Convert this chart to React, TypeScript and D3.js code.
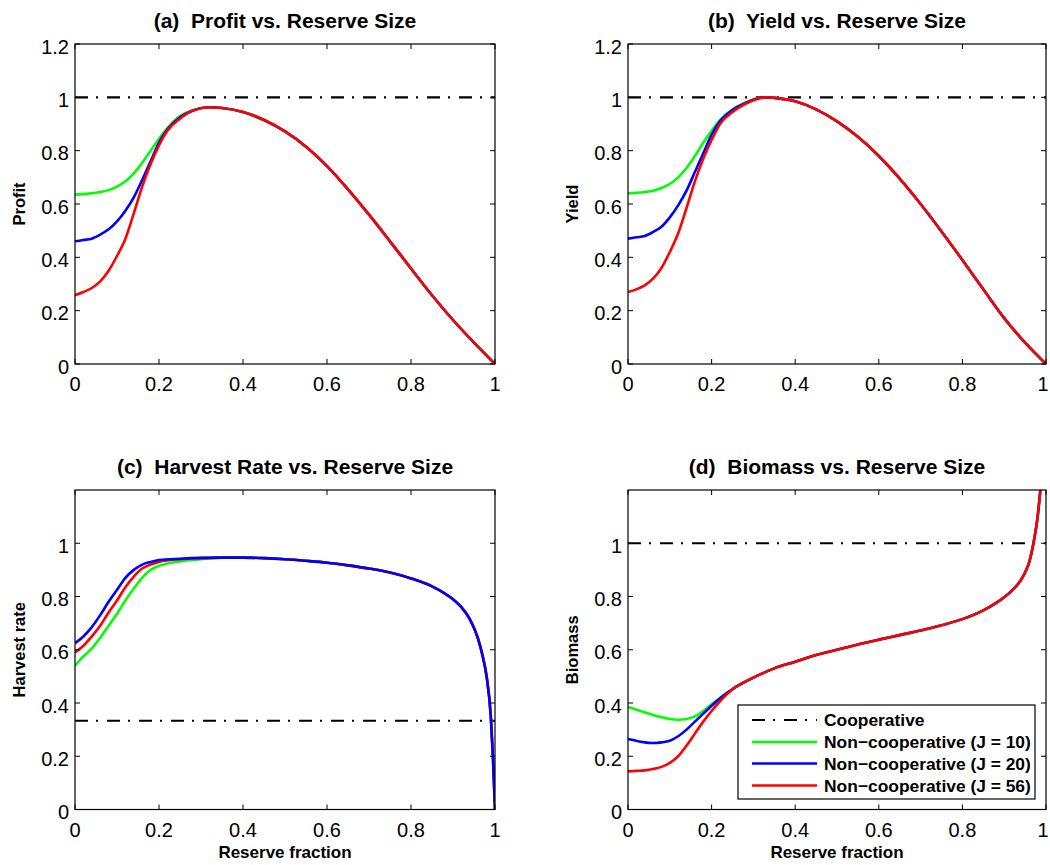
import React from "react";
import * as d3 from "d3";

const FONT = '"Liberation Sans", Arial, Helvetica, sans-serif';

// reserve fraction ticks
const xTickValues = [0, 0.2, 0.4, 0.6, 0.8, 1];
const xTickLabels = ["0", "0.2", "0.4", "0.6", "0.8", "1"];
const yTicksTop = [0, 0.2, 0.4, 0.6, 0.8, 1, 1.2];
const yTicksBottom = [0, 0.2, 0.4, 0.6, 0.8, 1];

const seriesNames = ["Non\u2212cooperative (J = 10)", "Non\u2212cooperative (J = 20)", "Non\u2212cooperative (J = 56)"];
const seriesColors = ["#00ff00", "#0000ff", "#ff0000"];

// (a) profit
const aHeadX = [0, 0.02, 0.04, 0.06, 0.08, 0.1, 0.12, 0.14, 0.16, 0.18, 0.2, 0.22, 0.25, 0.28];
const aJ10 = [0.635, 0.637, 0.64, 0.645, 0.652, 0.665, 0.685, 0.715, 0.755, 0.8, 0.845, 0.885, 0.93, 0.952];
const aJ20 = [0.46, 0.465, 0.47, 0.485, 0.505, 0.535, 0.575, 0.625, 0.69, 0.76, 0.83, 0.88, 0.925, 0.95];
const aJ56 = [0.258, 0.27, 0.285, 0.31, 0.35, 0.405, 0.47, 0.565, 0.665, 0.75, 0.82, 0.875, 0.92, 0.95];
const aTailX = [0.32, 0.35, 0.4, 0.45, 0.5, 0.55, 0.6, 0.65, 0.7, 0.75, 0.8, 0.85, 0.9, 0.95, 1];
const aTail = [0.963, 0.96, 0.945, 0.915, 0.872, 0.815, 0.742, 0.655, 0.56, 0.46, 0.358, 0.258, 0.165, 0.08, 0];

// (b) yield
const bHeadX = [0, 0.02, 0.04, 0.06, 0.08, 0.1, 0.12, 0.14, 0.16, 0.18, 0.2, 0.22, 0.25, 0.28];
const bJ10 = [0.64, 0.642, 0.645, 0.65, 0.66, 0.675, 0.7, 0.735, 0.78, 0.83, 0.875, 0.915, 0.955, 0.98];
const bJ20 = [0.47, 0.475, 0.48, 0.495, 0.515, 0.55, 0.595, 0.65, 0.72, 0.79, 0.86, 0.91, 0.952, 0.978];
const bJ56 = [0.27, 0.28, 0.295, 0.32, 0.36, 0.42, 0.49, 0.585, 0.685, 0.77, 0.84, 0.9, 0.945, 0.975];
const bTailX = [0.33, 0.35, 0.4, 0.45, 0.5, 0.55, 0.6, 0.65, 0.7, 0.75, 0.8, 0.85, 0.9, 0.95, 1];
const bTail = [1.0, 0.998, 0.985, 0.955, 0.91, 0.852, 0.78, 0.695, 0.6, 0.497, 0.39, 0.28, 0.172, 0.08, 0];

// (c) harvest rate
const cHeadX = [0, 0.02, 0.04, 0.06, 0.08, 0.1, 0.12, 0.14, 0.16, 0.18, 0.2, 0.25, 0.3];
const cJ10 = [0.54, 0.575, 0.605, 0.645, 0.69, 0.735, 0.785, 0.83, 0.87, 0.9, 0.915, 0.932, 0.94];
const cJ20 = [0.625, 0.65, 0.685, 0.73, 0.78, 0.825, 0.87, 0.9, 0.92, 0.93, 0.937, 0.942, 0.945];
const cJ56 = [0.59, 0.615, 0.65, 0.69, 0.74, 0.785, 0.835, 0.875, 0.905, 0.92, 0.93, 0.94, 0.944];
const cTailX = [0.35, 0.4, 0.45, 0.5, 0.55, 0.6, 0.65, 0.7, 0.75, 0.8, 0.85, 0.88, 0.9, 0.92, 0.94, 0.96, 0.97, 0.98, 0.99, 0.995, 1];
const cTail = [0.946, 0.946, 0.944, 0.94, 0.934, 0.927, 0.917, 0.905, 0.89, 0.868, 0.838, 0.812, 0.79, 0.76, 0.715, 0.64, 0.58, 0.5, 0.35, 0.2, 0];

// (d) biomass
const dHeadX = [0, 0.02, 0.04, 0.06, 0.08, 0.1, 0.12, 0.14, 0.16, 0.18, 0.2, 0.225];
const dJ10 = [0.385, 0.375, 0.365, 0.355, 0.347, 0.34, 0.337, 0.34, 0.35, 0.37, 0.395, 0.425];
const dJ20 = [0.265, 0.258, 0.252, 0.25, 0.252, 0.258, 0.275, 0.3, 0.33, 0.36, 0.39, 0.423];
const dJ56 = [0.143, 0.145, 0.147, 0.152, 0.16, 0.175, 0.2, 0.24, 0.285, 0.33, 0.37, 0.415];
const dTailX = [0.25, 0.3, 0.35, 0.4, 0.45, 0.5, 0.55, 0.6, 0.65, 0.7, 0.75, 0.8, 0.85, 0.88, 0.9, 0.92, 0.94, 0.95, 0.96, 0.97, 0.98, 0.99];
const dTail = [0.452, 0.495, 0.53, 0.555, 0.58, 0.6, 0.62, 0.638, 0.655, 0.672, 0.692, 0.715, 0.748, 0.775, 0.797, 0.825, 0.862, 0.89, 0.93, 1.0, 1.1, 1.26];

// cooperative reference level in each panel
const coopLevels = [1, 1, 1 / 3, 1];

const join = (hx, hy, tx, ty) => hx.map((x, i) => [x, hy[i]]).concat(tx.map((x, i) => [x, ty[i]]));

const panels = [
  { id: "a", title: "(a)  Profit vs. Reserve Size", ylabel: "Profit", xlabel: null,
    box: [75, 44, 495, 364], yTicks: yTicksTop, coop: coopLevels[0], order: [0, 1, 2],
    series: [join(aHeadX, aJ10, aTailX, aTail), join(aHeadX, aJ20, aTailX, aTail), join(aHeadX, aJ56, aTailX, aTail)] },
  { id: "b", title: "(b)  Yield vs. Reserve Size", ylabel: "Yield", xlabel: null,
    box: [628, 44, 1046, 364], yTicks: yTicksTop, coop: coopLevels[1], order: [0, 1, 2],
    series: [join(bHeadX, bJ10, bTailX, bTail), join(bHeadX, bJ20, bTailX, bTail), join(bHeadX, bJ56, bTailX, bTail)] },
  { id: "c", title: "(c)  Harvest Rate vs. Reserve Size", ylabel: "Harvest rate", xlabel: "Reserve fraction",
    box: [75, 490, 495, 809.5], yTicks: yTicksBottom, coop: coopLevels[2], order: [0, 2, 1],
    series: [join(cHeadX, cJ10, cTailX, cTail), join(cHeadX, cJ20, cTailX, cTail), join(cHeadX, cJ56, cTailX, cTail)] },
  { id: "d", title: "(d)  Biomass vs. Reserve Size", ylabel: "Biomass", xlabel: "Reserve fraction",
    box: [628, 490, 1046, 809.5], yTicks: yTicksBottom, coop: coopLevels[3], order: [0, 1, 2],
    series: [join(dHeadX, dJ10, dTailX, dTail), join(dHeadX, dJ20, dTailX, dTail), join(dHeadX, dJ56, dTailX, dTail)],
    legend: true },
];

const DASHDOT = "13,8,2,9";

function Panel({ p }) {
  const [x0, y0, x1, y1] = p.box;
  const x = d3.scaleLinear().domain([0, 1]).range([x0, x1]);
  const y = d3.scaleLinear().domain([0, 1.2]).range([y1, y0]);
  const line = d3.line().x((d) => x(d[0])).y((d) => y(d[1])).curve(d3.curveMonotoneX);
  const cx = (x0 + x1) / 2;
  const cy = (y0 + y1) / 2;
  const clipId = `clip-${p.id}`;
  const tick = 5;
  return (
    <g>
      <defs>
        <clipPath id={clipId}>
          <rect x={x0} y={y0} width={x1 - x0} height={y1 - y0} />
        </clipPath>
      </defs>
      <g clipPath={`url(#${clipId})`}>
        <line x1={x0} x2={x1} y1={y(p.coop)} y2={y(p.coop)} stroke="#000" strokeWidth={2.2} strokeDasharray={DASHDOT} />
        {p.order.map((i) => (
          <path key={i} d={line(p.series[i])} fill="none" stroke={seriesColors[i]} strokeWidth={2.6} strokeLinejoin="round" />
        ))}
      </g>
      <rect x={x0} y={y0} width={x1 - x0} height={y1 - y0} fill="none" stroke="#000" strokeWidth={1.2} />
      {xTickValues.map((v, i) => (
        <g key={`xt${i}`}>
          <line x1={x(v)} x2={x(v)} y1={y1} y2={y1 - tick} stroke="#000" strokeWidth={1} />
          <line x1={x(v)} x2={x(v)} y1={y0} y2={y0 + tick} stroke="#000" strokeWidth={1} />
          <text x={Math.min(x(v), 1043)} y={y1 + 27} fontSize={20} textAnchor="middle">{xTickLabels[i]}</text>
        </g>
      ))}
      {p.yTicks.map((v) => (
        <g key={`yt${v}`}>
          <line x1={x0} x2={x0 + tick} y1={y(v)} y2={y(v)} stroke="#000" strokeWidth={1} />
          <line x1={x1} x2={x1 - tick} y1={y(v)} y2={y(v)} stroke="#000" strokeWidth={1} />
          <text x={x0 - 6} y={y(v) + 9.5} fontSize={20} textAnchor="end">{d3.format("~g")(v)}</text>
        </g>
      ))}
      <text x={cx} y={y0 - 16} fontSize={21} fontWeight="bold" textAnchor="middle"
        style={{ whiteSpace: "pre" }}>{p.title}</text>
      <text transform={`translate(${x0 - 50},${cy}) rotate(-90)`} fontSize={16.5} fontWeight="bold" textAnchor="middle">{p.ylabel}</text>
      {p.xlabel && (
        <text x={cx} y={y1 + 48.5} fontSize={17} fontWeight="bold" textAnchor="middle">{p.xlabel}</text>
      )}
      {p.legend && <Legend />}
    </g>
  );
}

function Legend() {
  const lx = 738, ly = 705, lw = 297, lh = 94;
  const rows = [{ label: "Cooperative", color: "#000", dash: DASHDOT }].concat(
    seriesNames.map((n, i) => ({ label: n, color: seriesColors[i], dash: null }))
  );
  const rowY = [720, 742, 763.5, 785.5];
  return (
    <g>
      <rect x={lx} y={ly} width={lw} height={lh} fill="#fff" stroke="#000" strokeWidth={1.2} />
      {rows.map((r, i) => (
        <g key={i}>
          <line x1={752} x2={817} y1={rowY[i]} y2={rowY[i]} stroke={r.color} strokeWidth={r.dash ? 2.2 : 2.6}
            strokeDasharray={r.dash || undefined} />
          <text x={824} y={rowY[i] + 6} fontSize={17.4} fontWeight="bold">{r.label}</text>
        </g>
      ))}
    </g>
  );
}

export default function App() {
  return (
    <svg width={1050} height={865} fontFamily={FONT}
      style={{ position: "absolute", left: 0, top: 0, background: "#fff" }}>
      <rect width={1050} height={865} fill="#fff" />
      {panels.map((p) => <Panel key={p.id} p={p} />)}
    </svg>
  );
}
